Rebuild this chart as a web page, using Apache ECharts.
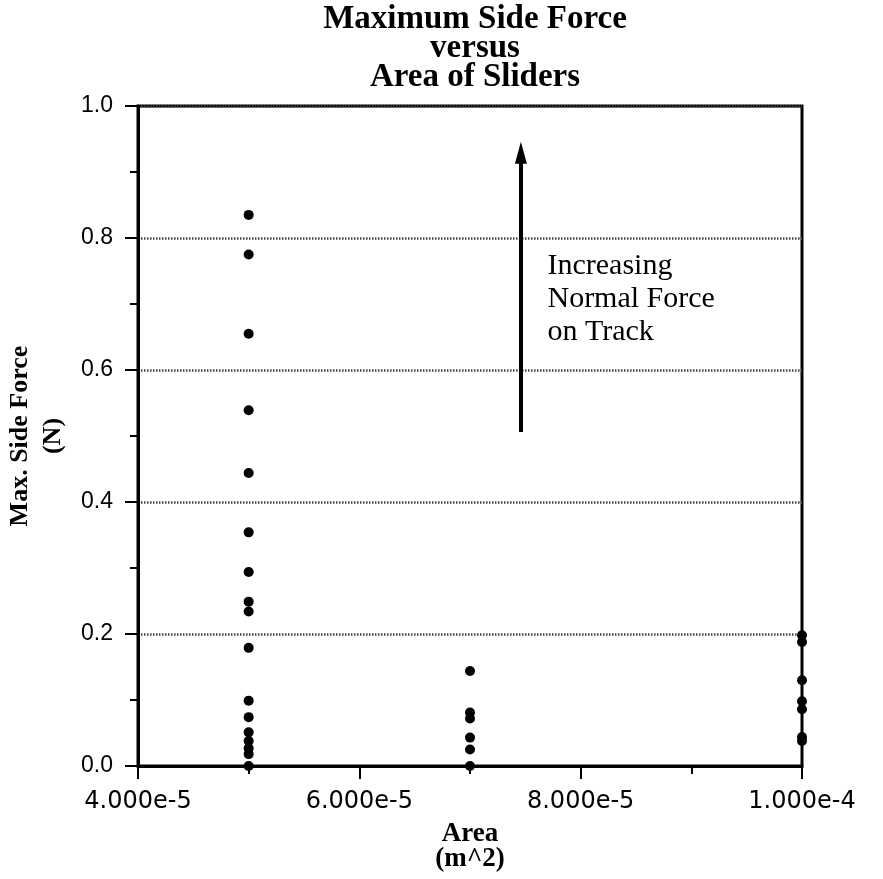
<!DOCTYPE html>
<html>
<head>
<meta charset="utf-8">
<script src="https://cdn.jsdelivr.net/npm/echarts@6/dist/echarts.min.js"></script>
<style>
  html, body { margin: 0; padding: 0; background: #fff; }
  #chart { width: 883px; height: 879px; }
</style>
</head>
<body>
<div id="chart"></div>
<script>
// ================ data =====================
const areaValues = [5e-5, 7e-5, 1e-4]
const forceAt5e5 = [0.835, 0.775, 0.655, 0.539, 0.444, 0.354, 0.294, 0.249, 0.234, 0.179, 0.099, 0.074, 0.051, 0.038, 0.027, 0.018, 0.0]
const forceAt7e5 = [0.144, 0.081, 0.072, 0.043, 0.025, 0.0]
const forceAt1e4 = [0.198, 0.188, 0.13, 0.098, 0.086, 0.044, 0.038]
const yTicks = [0, 0.2, 0.4, 0.6, 0.8, 1.0]
const xTicks = [4e-5, 6e-5, 8e-5, 1e-4]
const arrowX = 7.46e-5
const arrowFrom = 0.506
const arrowTo = 0.929
const noteX = 7.7e-5
const noteY = 0.707
const noteText = 'Increasing\nNormal Force\non Track'

const columns = [forceAt5e5, forceAt7e5, forceAt1e4]
const points = []
columns.forEach((col, i) => {
  col.forEach((v) => points.push([areaValues[i], v]))
})

const serif = 'Liberation Serif'
const sans = 'Liberation Sans'

const chart = echarts.init(document.getElementById('chart'), null, { renderer: 'canvas' })
chart.setOption({
  animation: false,
  backgroundColor: '#fff',
  title: {
    text: 'Maximum Side Force\nversus\nArea of Sliders',
    left: 470,
    top: 0,
    textAlign: 'center',
    textStyle: {
      fontFamily: serif,
      fontWeight: 'bold',
      fontSize: 33,
      lineHeight: 29,
      color: '#000'
    }
  },
  grid: {
    left: 138,
    right: 81,
    top: 106,
    bottom: 113,
    outerBoundsMode: 'none',
    containLabel: false,
    show: true,
    borderColor: '#000',
    borderWidth: 3,
    backgroundColor: 'transparent'
  },
  xAxis: {
    type: 'value',
    min: xTicks[0],
    max: xTicks[xTicks.length - 1],
    interval: xTicks[1] - xTicks[0],
    name: 'Area\n(m^2)',
    nameLocation: 'middle',
    nameGap: 56,
    nameTextStyle: { fontFamily: serif, fontWeight: 'bold', fontSize: 27, lineHeight: 25, color: '#000' },
    axisLine: { show: true, onZero: false, lineStyle: { color: '#000', width: 3 } },
    axisTick: { show: true, inside: false, length: 13, lineStyle: { color: '#000', width: 2 } },
    minorTick: { show: true, splitNumber: 2, length: 8, lineStyle: { color: '#000', width: 2 } },
    axisLabel: {
      margin: 24,
      fontFamily: 'DejaVu Sans',
      fontSize: 24,
      color: '#000',
      formatter: (v) => v.toExponential(3)
    },
    splitLine: { show: false }
  },
  yAxis: {
    type: 'value',
    min: yTicks[0],
    max: yTicks[yTicks.length - 1],
    interval: yTicks[1] - yTicks[0],
    name: 'Max. Side Force\n(N)',
    nameLocation: 'middle',
    nameRotate: 90,
    nameGap: 64,
    nameTextStyle: { fontFamily: serif, fontWeight: 'bold', fontSize: 26, lineHeight: 33, color: '#000' },
    axisLine: { show: true, lineStyle: { color: '#000', width: 3 } },
    axisTick: { show: true, inside: false, length: 13, lineStyle: { color: '#000', width: 2 } },
    minorTick: { show: true, splitNumber: 2, length: 8, lineStyle: { color: '#000', width: 2 } },
    axisLabel: {
      margin: 25,
      fontFamily: sans,
      fontSize: 23,
      color: '#000',
      formatter: (v) => v.toFixed(1)
    },
    splitLine: { show: true, lineStyle: { color: '#444', width: 2.5, type: [1.5, 1.5] } }
  },
  series: [
    {
      type: 'scatter',
      data: points,
      symbol: 'circle',
      symbolSize: 10,
      itemStyle: { color: '#000', opacity: 1 },
      z: 5
    },
    {
      type: 'scatter',
      data: [],
      markLine: {
        silent: true,
        symbol: ['none', 'triangle'],
        symbolSize: 16,
        label: { show: false },
        lineStyle: { color: '#000', width: 4, type: 'solid' },
        itemStyle: { color: '#000' },
        data: [[
          { coord: [arrowX, arrowFrom], symbol: 'none' },
          { coord: [arrowX, arrowTo], symbol: 'triangle', symbolSize: [12, 22] }
        ]]
      },
      markPoint: {
        silent: true,
        symbol: 'circle',
        symbolSize: 0,
        label: {
          show: true,
          position: 'inside',
          align: 'left',
          verticalAlign: 'middle',
          formatter: noteText,
          fontFamily: serif,
          fontSize: 30,
          lineHeight: 33,
          color: '#000'
        },
        data: [{ coord: [noteX, noteY] }]
      }
    }
  ]
})
</script>
</body>
</html>
